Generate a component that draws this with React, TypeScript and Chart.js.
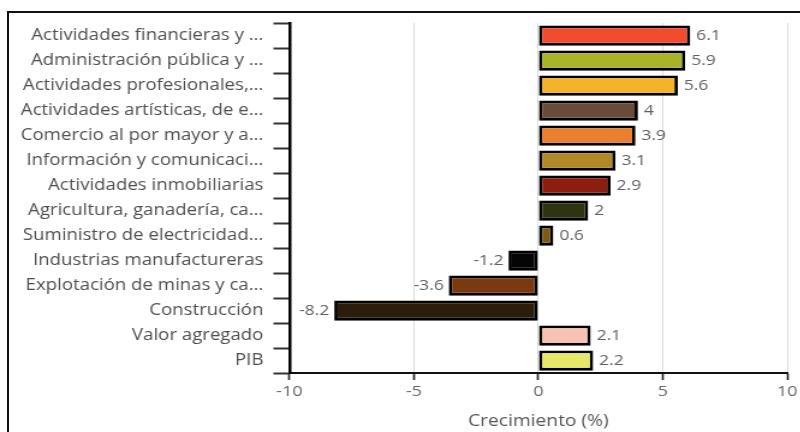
import React, { useEffect, useRef } from "react";
import { Chart, registerables } from "chart.js";

Chart.register(...registerables);

// Sector names (truncated as displayed) and growth rates in percent
const sectors = [
  "Actividades financieras y ...",
  "Administración pública y ...",
  "Actividades profesionales,...",
  "Actividades artísticas, de e...",
  "Comercio al por mayor y a...",
  "Información y comunicaci...",
  "Actividades inmobiliarias",
  "Agricultura, ganadería, ca...",
  "Suministro de electricidad...",
  "Industrias manufactureras",
  "Explotación de minas y ca...",
  "Construcción",
  "Valor agregado",
  "PIB",
];

const growth = [6.1, 5.9, 5.6, 4, 3.9, 3.1, 2.9, 2, 0.6, -1.2, -3.6, -8.2, 2.1, 2.2];

const barColors = [
  "#f24b2d",
  "#a9b526",
  "#f5b32c",
  "#6a4a39",
  "#ea7f2f",
  "#b08926",
  "#8c1d0f",
  "#2e3410",
  "#7c5a12",
  "#050505",
  "#7a3a10",
  "#2c1c0a",
  "#f8c2b4",
  "#e6e86a",
];

const xTicks = [-10, -5, 0, 5, 10];

const FONT = "'Open Sans', sans-serif";

// The chart is laid out on a narrower canvas and widened with a CSS scaleX,
// which gives the text its broad look.
const STRETCH = 1.2;
const FULL_W = 800;
const FULL_H = 432;
const CANVAS_W = FULL_W / STRETCH;

// Writes each bar's value just beyond its end
const valueLabels = {
  id: "valueLabels",
  afterDatasetsDraw(chart: any) {
    const { ctx } = chart;
    const meta = chart.getDatasetMeta(0);
    ctx.save();
    ctx.font = `14.5px ${FONT}`;
    ctx.fillStyle = "#606060";
    ctx.textBaseline = "middle";
    meta.data.forEach((bar: any, i: number) => {
      const v = growth[i];
      if (v >= 0) {
        ctx.textAlign = "left";
        ctx.fillText(String(v), bar.x + 6 / STRETCH, bar.y);
      } else {
        ctx.textAlign = "right";
        ctx.fillText(String(v), bar.x - 5 / STRETCH, bar.y);
      }
    });
    ctx.restore();
  },
};

export default function App() {
  const canvasRef = useRef<HTMLCanvasElement | null>(null);

  useEffect(() => {
    if (!canvasRef.current) return;
    const chart = new Chart(canvasRef.current, {
      type: "bar",
      data: {
        labels: sectors,
        datasets: [
          {
            data: growth,
            backgroundColor: barColors,
            borderColor: "#000",
            borderWidth: 2.8,
            borderSkipped: false,
            categoryPercentage: 1,
            barPercentage: 0.81,
          },
        ],
      },
      options: {
        indexAxis: "y",
        animation: false,
        responsive: true,
        maintainAspectRatio: false,
        layout: {
          padding: { top: 23, right: (FULL_W - 789) / STRETCH, left: 0, bottom: 0 },
        },
        plugins: {
          legend: { display: false },
          tooltip: { enabled: false },
        },
        scales: {
          x: {
            type: "linear",
            min: -10,
            max: 10,
            afterBuildTicks(scale: any) {
              scale.ticks = xTicks.map((v) => ({ value: v }));
            },
            afterFit(scale: any) {
              scale.height = 59;
            },
            grid: {
              color: "#dcdcdc",
              lineWidth: 1,
              drawTicks: true,
              tickLength: 7,
              tickColor: "#222",
              tickWidth: 2 / STRETCH,
            },
            border: { color: "#111", width: 2 },
            ticks: {
              color: "#666",
              font: { family: FONT, size: 15 },
              padding: 3,
            },
            title: {
              display: true,
              text: "Crecimiento (%)",
              color: "#555",
              font: { family: FONT, size: 16 },
              padding: { top: 4, bottom: 1 },
            },
          },
          y: {
            afterFit(scale: any) {
              scale.width = 289 / STRETCH;
            },
            grid: {
              offset: true,
              drawOnChartArea: false,
              drawTicks: true,
              tickLength: 16 / STRETCH,
              tickColor: "#333",
              tickWidth: 2,
            },
            border: { color: "#000", width: 3 / STRETCH },
            ticks: {
              color: "#4e4e4e",
              font: { family: FONT, size: 15.5 },
              padding: 10 / STRETCH,
              autoSkip: false,
            },
          },
        },
      },
      plugins: [valueLabels],
    });
    return () => chart.destroy();
  }, []);

  return (
    <div
      style={{
        position: "fixed",
        left: 0,
        top: 0,
        width: FULL_W,
        height: FULL_H,
        background: "#fff",
        overflow: "hidden",
      }}
    >
      <div
        style={{
          position: "absolute",
          left: 7,
          top: 11,
          width: FULL_W,
          height: FULL_H + 10,
          borderTop: "2px solid #111",
          borderLeft: "2px solid #111",
          boxSizing: "border-box",
        }}
      />
      <div
        style={{
          position: "absolute",
          left: 0,
          top: 0,
          width: CANVAS_W,
          height: FULL_H,
          transform: `scaleX(${STRETCH})`,
          transformOrigin: "0 0",
        }}
      >
        <canvas ref={canvasRef} />
      </div>
    </div>
  );
}
